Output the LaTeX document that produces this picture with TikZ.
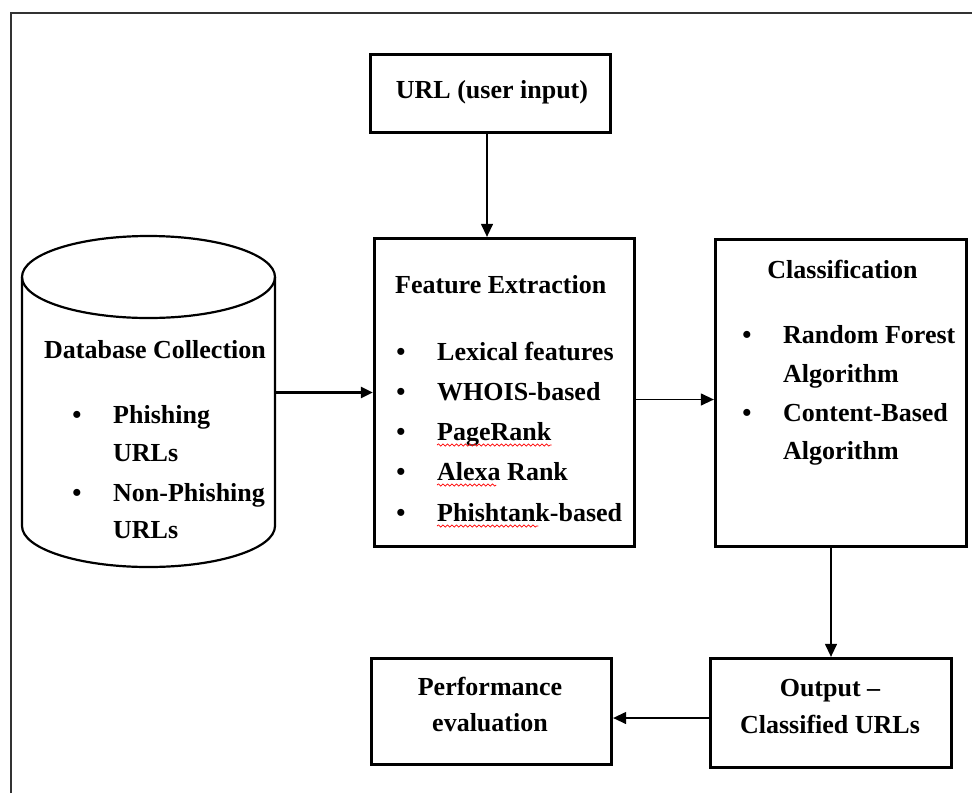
\documentclass[tikz,border=0pt]{standalone}
\usepackage{fontspec}
\setmainfont{Liberation Serif}
\usetikzlibrary{arrows.meta,decorations.pathmorphing}

\begin{document}
\begin{tikzpicture}[x=1pt,y=-1pt,
  box/.style={draw, line width=2.8pt, inner sep=0pt},
  txt/.style={inner sep=0pt, font=\fontsize{26}{30}\selectfont\bfseries},
  lbl/.style={txt, anchor=base west},
  ctr/.style={txt, anchor=base},
  conn/.style={line width=1.3pt, -{Triangle[length=13pt,width=12pt]}},
  thickconn/.style={line width=2.4pt, -{Triangle[length=12pt,width=11pt]}},
  squig/.style={draw=red, line width=0.7pt, decorate, decoration={snake,amplitude=1.1pt,segment length=4.5pt}}
]
\useasboundingbox (0,0) rectangle (972,793);
% outer frame
\draw[line width=1.6pt, black!80] (11,793) -- (11,13) -- (972,13);

% boxes
\node[box, minimum width=240.5pt, minimum height=78.5pt] (url) at (490.5,93.5) {};
\node[box, minimum width=260.5pt, minimum height=308.5pt] (fe) at (504.5,392.5) {};
\node[box, minimum width=251.5pt, minimum height=307.5pt] (cl) at (841,393) {};
\node[box, minimum width=240.5pt, minimum height=106.5pt] (perf) at (491.5,711.5) {};
\node[box, minimum width=241.5pt, minimum height=109.5pt] (out) at (831,713) {};

% cylinder
\node[minimum width=253pt, minimum height=332pt, inner sep=0pt] (db) at (148.5,401) {};
\draw[line width=2.2pt] (148.5,277) ellipse [x radius=126.5pt, y radius=41pt];
\draw[line width=2.2pt] (22,277) -- (22,526) arc[start angle=180, end angle=360, x radius=126.5pt, y radius=41pt] -- (275,277);

% texts
\node[ctr] (urlt) at (492,98) {URL (user input)};

\node[lbl] (fet) at (395,293) {Feature Extraction};
\node[ctr] (fb1) at (401,360) {•};
\node[ctr] (fb2) at (401,400) {•};
\node[ctr] (fb3) at (401,440) {•};
\node[ctr] (fb4) at (401,480) {•};
\node[ctr] (fb5) at (401,521) {•};
\node[lbl] (lex) at (437,360) {Lexical features};
\node[lbl] (who) at (437,400) {WHOIS-based};
\node[lbl] (pr) at (437,440) {PageRank};
\node[lbl] (alx) at (437,480) {Alexa Rank};
\node[lbl] (pt) at (437,521) {Phishtank-based};

\node[ctr] (clt) at (842.5,278) {Classification};
\node[ctr] (cb1) at (747,343) {•};
\node[ctr] (cb2) at (747,421) {•};
\node[lbl] (rf1) at (783,343) {Random Forest};
\node[lbl] (rf2) at (783,382) {Algorithm};
\node[lbl] (cb1t) at (783,421) {Content-Based};
\node[lbl] (cb2t) at (783,459) {Algorithm};

\node[ctr] (dbt) at (155,358) {Database Collection};
\node[ctr] (db1) at (77,423) {•};
\node[ctr] (db2) at (77,501) {•};
\node[lbl] (ph1) at (113,423) {Phishing};
\node[lbl] (ph2) at (113,461) {URLs};
\node[lbl] (np1) at (113,501) {Non-Phishing};
\node[lbl] (np2) at (113,538) {URLs};

\node[ctr] (pe1) at (490,695) {Performance};
\node[ctr] (pe2) at (490,731) {evaluation};
\node[ctr] (ou1) at (830,696) {Output –};
\node[ctr] (ou2) at (830,733) {Classified URLs};

% spell-check squiggles
\draw[squig] ([yshift=-5pt]pr.base west) -- ([yshift=-5pt]pr.base east);
\draw[squig] ([yshift=-5pt]alx.base west) -- ([xshift=-72pt,yshift=-5pt]alx.base east);
\draw[squig] ([yshift=-5pt]pt.base west) -- ([xshift=-84pt,yshift=-5pt]pt.base east);

% connectors
\draw[conn] ([xshift=-3.5pt]url.south) -- ([xshift=-3.5pt]url.south |- fe.north);
\draw[thickconn] (db.east |- fe.west) -- (fe.west);
\draw[conn] ([yshift=-7pt]fe.east) -- ([yshift=-7pt]fe.east -| cl.west);
\draw[conn] (out.north |- cl.south) -- (out.north);
\draw[conn] ([yshift=-5pt]out.west) -- ([yshift=-5pt]out.west -| perf.east);
\end{tikzpicture}
\end{document}
